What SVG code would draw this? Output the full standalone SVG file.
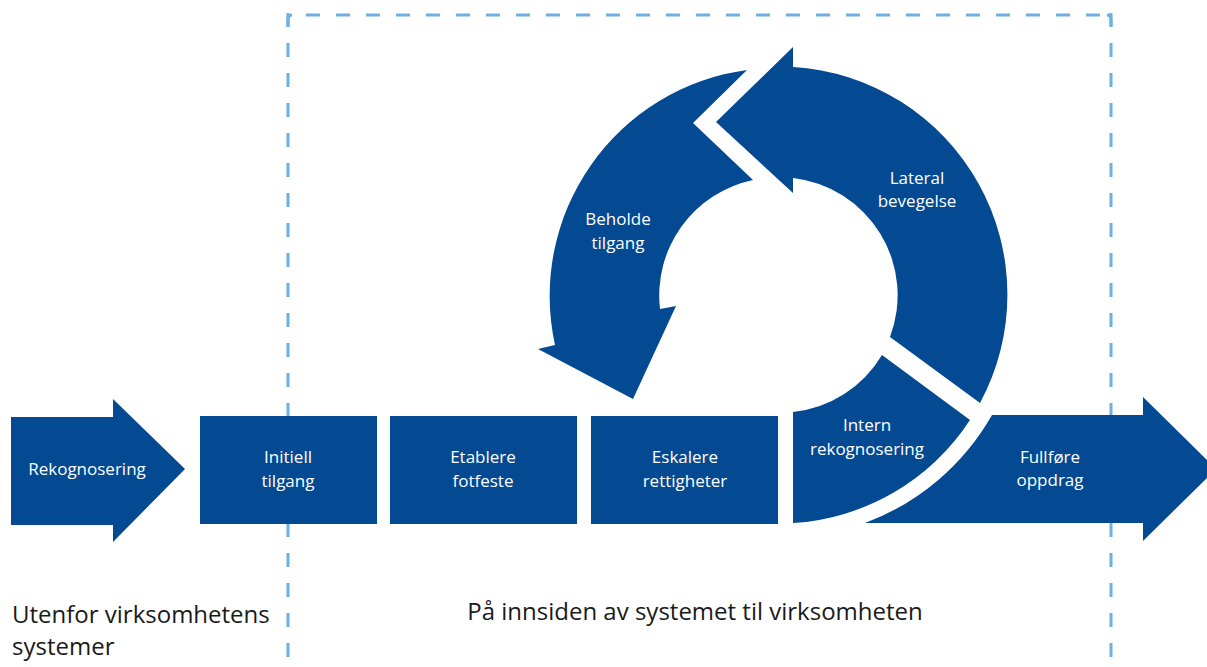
<svg xmlns="http://www.w3.org/2000/svg" width="1207" height="667" viewBox="0 0 1207 667">
  <style>
    .shape { fill: #034a93; }
    .lbl { fill: #ffffff; font-family: "Open Sans", "Liberation Sans", sans-serif; font-size: 17px; text-anchor: middle; }
    .cap { fill: #1a1a1a; font-family: "Open Sans", "Liberation Sans", sans-serif; font-size: 24px; }
    .dash { fill: none; stroke: #6cb0e4; stroke-width: 3; stroke-dasharray: 14 16; }
  </style>
  <rect width="1207" height="667" fill="#ffffff"/>
  <g id="frame">
    <path class="dash" d="M296,15 H1106" stroke-dashoffset="20"/>
    <path class="dash" d="M288,13 V667"/>
    <path class="dash" d="M1111,13 V667"/>
    <path fill="none" stroke="#6cb0e4" stroke-width="3" d="M288,27 V19 Q288,15 292,15 M1107,15 Q1111,15 1111,19 V27"/>
  </g>
  <g id="connectors"></g>
  <g id="rekognosering">
    <path class="shape" d="M11,417 H113 V399 L185,469 L113,542 V525 H11 Z"/>
    <text class="lbl" x="87" y="475">Rekognosering</text>
  </g>
  <g id="initiell-tilgang">
    <rect class="shape" x="200" y="416" width="177" height="108"/>
    <text class="lbl" x="288" y="463">Initiell</text>
    <text class="lbl" x="288" y="487">tilgang</text>
  </g>
  <g id="etablere-fotfeste">
    <rect class="shape" x="390" y="416" width="187" height="108"/>
    <text class="lbl" x="483" y="463">Etablere</text>
    <text class="lbl" x="483" y="487">fotfeste</text>
  </g>
  <g id="eskalere-rettigheter">
    <rect class="shape" x="591" y="416" width="187" height="108"/>
    <text class="lbl" x="685" y="463">Eskalere</text>
    <text class="lbl" x="685" y="487">rettigheter</text>
  </g>
  <g id="intern-rekognosering">
    <path class="shape" d="M793,412 A118,118 0 0 0 882,355 L970,420 A228,228 0 0 1 793,523 Z"/>
    <text class="lbl" x="867" y="431">Intern</text>
    <text class="lbl" x="867" y="455">rekognosering</text>
  </g>
  <g id="lateral-bevegelse">
    <path class="shape" d="M793,67 A228,228 0 0 1 980,403 L890,337 A118,118 0 0 0 793,178 V193 L716,122 L793,47 Z"/>
    <text class="lbl" x="917" y="184">Lateral</text>
    <text class="lbl" x="917" y="207">bevegelse</text>
  </g>
  <g id="beholde-tilgang">
    <path class="shape" d="M747,70 L693,123 L753,180 A118,118 0 0 0 660,309 L676,306 L633,399 L538,349 L555,345 A228,228 0 0 1 747,70 Z"/>
    <text class="lbl" x="618" y="225">Beholde</text>
    <text class="lbl" x="618" y="249">tilgang</text>
  </g>
  <g id="fullfore-oppdrag">
    <path class="shape" d="M992,415 H1143 V397 L1216,469 L1143,541 V523 H865 A244,244 0 0 0 992,415 Z"/>
    <text class="lbl" x="1050" y="463">Fullføre</text>
    <text class="lbl" x="1050" y="486">oppdrag</text>
  </g>
  <g id="captions">
    <text class="cap" x="12" y="623">Utenfor virksomhetens</text>
    <text class="cap" x="12" y="655">systemer</text>
    <text class="cap" x="695" y="620" text-anchor="middle">På innsiden av systemet til virksomheten</text>
  </g>
</svg>
